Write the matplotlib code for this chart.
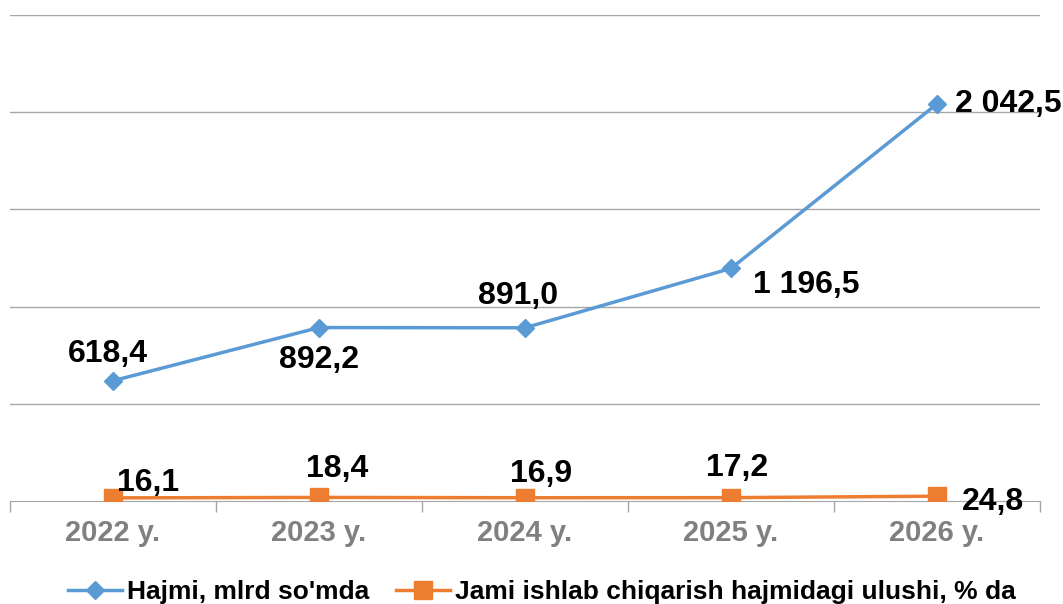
import matplotlib
matplotlib.use("Agg")
import matplotlib.pyplot as plt
import numpy as np

years = ["2022 y.", "2023 y.", "2024 y.", "2025 y.", "2026 y."]
hajmi = [618.4, 892.2, 891.0, 1196.5, 2042.5]
ulushi = [16.1, 18.4, 16.9, 17.2, 24.8]
hajmi_labels = ["618,4", "892,2", "891,0", "1 196,5", "2 042,5"]
ulushi_labels = ["16,1", "18,4", "16,9", "17,2", "24,8"]

name_hajmi = "Hajmi, mlrd so'mda"
name_ulushi = "Jami ishlab chiqarish hajmidagi ulushi, % da"

blue = "#5B9BD5"
orange = "#ED7D31"

plt.rcParams["font.family"] = ["Liberation Sans", "DejaVu Sans"]

W, H = 1063, 604
fig = plt.figure(figsize=(W / 100, H / 100), dpi=100)
ax = fig.add_axes([10 / W, (H - 501) / H, 1030 / W, (501 - 15) / H])

x = np.arange(len(years))
ax.plot(x, hajmi, color=blue, lw=2.5, marker="D", ms=9, label=name_hajmi, zorder=3)
ax.plot(x, ulushi, color=orange, lw=2.5, marker="s", ms=12.5, label=name_ulushi, zorder=3)

ax.set_ylim(0, 2500)
ax.set_xlim(-0.5, len(years) - 0.5)
ax.set_yticks(np.arange(500, 2501, 500))
ax.yaxis.grid(True, color="#A6A6A6", lw=1.0)
ax.set_axisbelow(True)
ax.tick_params(axis="y", left=False, labelleft=False)

ax.set_xticks(x)
ax.set_xticklabels(years, fontsize=21, fontweight="bold", color="#808080")
ax.tick_params(axis="x", which="major", length=0, pad=13)
ax.set_xticks(np.arange(-0.5, len(years)), minor=True)
ax.tick_params(axis="x", which="minor", length=8, color="#A6A6A6", width=1.0)

for s in ["top", "right", "left"]:
    ax.spines[s].set_visible(False)
ax.spines["bottom"].set_color("#A6A6A6")

# label offsets in pixels (dx, dy, ha)
off_h = [(-5, 27, "center"), (0, -32, "center"), (-7, 32, "center"), (22, -17, "left"), (18, 0, "left")]
off_u = [(4, 15, "left"), (18, 28, "center"), (16, 24, "center"), (6, 30, "center"), (25, -6, "left")]

for i in range(len(years)):
    dx, dy, ha = off_h[i]
    ax.annotate(hajmi_labels[i], (x[i], hajmi[i]), xytext=(dx, dy), textcoords="offset pixels",
                ha=ha, va="center", fontsize=23, fontweight="bold", color="black",
                annotation_clip=False)
    dx, dy, ha = off_u[i]
    ax.annotate(ulushi_labels[i], (x[i], ulushi[i]), xytext=(dx, dy), textcoords="offset pixels",
                ha=ha, va="center", fontsize=23, fontweight="bold", color="black",
                annotation_clip=False)

leg = fig.legend(loc="center", bbox_to_anchor=(542 / W, 12 / H), ncol=2, frameon=False,
                 prop={"size": 19, "weight": "bold"}, handlelength=2.05, handletextpad=0.2,
                 columnspacing=1.0, borderaxespad=0)

fig.savefig("out.png", dpi=100)
